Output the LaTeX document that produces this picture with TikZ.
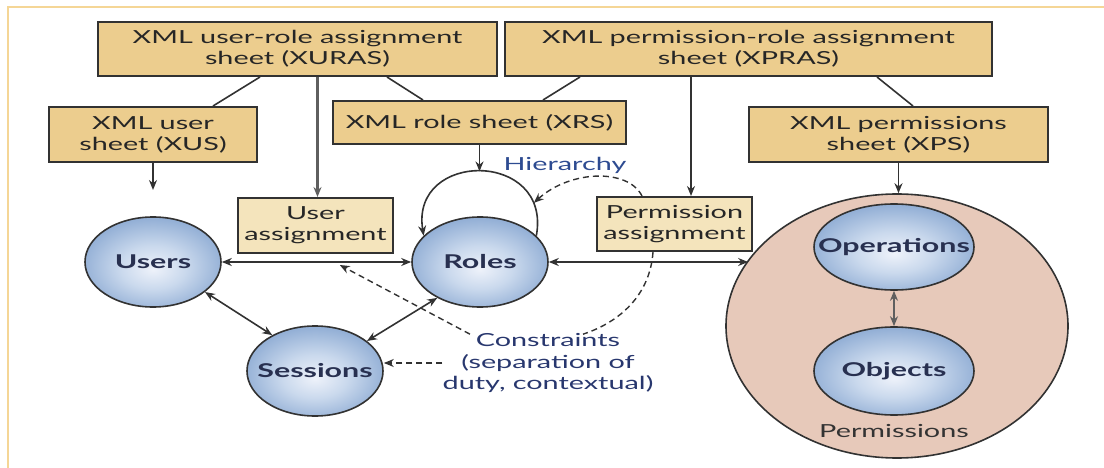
\documentclass[tikz,border=0pt]{standalone}
\usepackage{fontspec}
\setmainfont[FakeStretch=1.6]{Lato}
\usetikzlibrary{shapes.geometric,arrows.meta,calc}

\definecolor{frameline}{RGB}{245,214,150}
\definecolor{sheetfill}{RGB}{236,205,142}
\definecolor{assignfill}{RGB}{244,228,188}
\definecolor{edge}{RGB}{50,50,50}
\definecolor{heavyedge}{RGB}{95,95,95}
\definecolor{permfill}{RGB}{231,201,186}
\definecolor{labelblue}{RGB}{40,55,110}
\definecolor{hierblue}{RGB}{45,75,145}
\definecolor{balltext}{RGB}{40,48,80}
\definecolor{ballcenter}{RGB}{238,242,250}
\definecolor{ballmid}{RGB}{202,217,237}
\definecolor{balledge}{RGB}{148,176,214}
\pgfdeclareradialshading{ball}{\pgfpoint{0bp}{-4bp}}{color(0bp)=(ballcenter); color(12bp)=(ballmid); color(26bp)=(balledge); color(50bp)=(balledge)}

\begin{document}
\begin{tikzpicture}[x=1pt,y=-1pt,
  sheet/.style={draw=edge, line width=2pt, fill=sheetfill, inner sep=0pt, align=center,
    font=\fontsize{18}{21}\selectfont, text=black!85},
  assign/.style={sheet, fill=assignfill},
  ball/.style={ellipse, draw=edge, line width=1.6pt, shade, shading=ball, inner sep=0pt,
    minimum width=136pt, minimum height=90pt},
  balllabel/.style={font=\fontsize{19}{21}\selectfont\bfseries, text=balltext},
  note/.style={inner sep=0pt, align=center, font=\fontsize{18}{21.5}\selectfont, text=labelblue},
  tip/.style={-{Stealth[length=10pt,width=8pt]}},
  conn/.style={draw=edge, line width=1.6pt},
  arr/.style={conn, tip},
  biarr/.style={conn, {Stealth[length=10pt,width=8pt]}-{Stealth[length=10pt,width=8pt]}},
  heavy/.style={draw=heavyedge, line width=2.4pt},
  dline/.style={conn, line width=1.4pt, dash pattern=on 6pt off 4pt},
  darr/.style={dline, tip}
]
\useasboundingbox (0,0) rectangle (1104,468);

% outer frame (top and left rules)
\draw[frameline, line width=2pt] (8,468) -- (8,7) -- (1104,7);

% XML sheets
\node[sheet, minimum width=399pt, minimum height=54pt] (xuras) at (297.5,49) {XML user-role assignment\\sheet (XURAS)};
\node[sheet, minimum width=487pt, minimum height=54pt] (xpras) at (748.5,49) {XML permission-role assignment\\sheet (XPRAS)};
\node[sheet, minimum width=208pt, minimum height=55pt] (xus) at (153,134.5) {XML user\\sheet (XUS)};
\node[sheet, minimum width=293pt, minimum height=43pt] (xrs) at (479.5,122.5) {XML role sheet (XRS)};
\node[sheet, minimum width=299pt, minimum height=55pt] (xps) at (898.5,134.5) {XML permissions\\sheet (XPS)};

% assignment boxes
\node[assign, minimum width=155pt, minimum height=55pt] (ua) at (315.5,225.5) {User\\assignment};
\node[assign, minimum width=155pt, minimum height=54pt] (pa) at (674.5,224) {Permission\\assignment};

% permissions container
\node[ellipse, draw=edge, line width=1.6pt, fill=permfill, inner sep=0pt,
  minimum width=342pt, minimum height=264pt] (perms) at (897,326) {};
\node[inner sep=0pt, font=\fontsize{18}{21}\selectfont, text=black!80] (permlbl) at (894,431) {Permissions};

% entities
\node[ball, label={[balllabel]center:Users}] (users) at (153,262) {};
\node[ball, label={[balllabel]center:Roles}] (roles) at (480,262) {};
\node[ball, label={[balllabel]center:Sessions}] (sessions) at (315,371) {};
\node[ball, minimum width=160pt, minimum height=86pt, label={[balllabel]center:Operations}] (ops) at (894,247) {};
\node[ball, minimum width=160pt, minimum height=88pt, label={[balllabel]center:Objects}] (objs) at (894,371) {};

% free labels
\node[note, text=hierblue] (hier) at (565,165) {Hierarchy};
\node[note] (cons) at (548,363) {Constraints\\(separation of\\duty, contextual)};

% sheet links
\draw[conn] ([xshift=-37.5pt]xuras.south) -- ([xshift=60pt]xus.north);
\draw[conn] ([xshift=89.5pt]xuras.south) -- ([xshift=-56.5pt]xrs.north);
\draw[conn] ([xshift=-168.5pt]xpras.south) -- ([xshift=63.5pt]xrs.north);
\draw[conn] ([xshift=128.5pt]xpras.south) -- ([xshift=14.5pt]xps.north);

\coordinate (uaIn) at ([xshift=2pt]ua.north);
\draw[arr, heavy] (xuras.south -| uaIn) -- (uaIn);
\coordinate (paIn) at ([xshift=16.5pt]pa.north);
\draw[arr] (xpras.south -| paIn) -- (paIn);
\coordinate (usersIn) at (153,190);
\draw[arr] (xus.south) -- (usersIn);
\draw[arr] (xps.south) -- (xps.south |- perms.north);

% role hierarchy loop
\draw[arr] (roles.25) .. controls (552,150) and (410,150) ..
  coordinate[pos=0.15] (hierHit) coordinate[pos=0.5] (hierTop) (roles.155);
\draw[arr] (xrs.south) -- (xrs.south |- hierTop);

% relations
\draw[biarr, line width=1.8pt] (users.east) -- (roles.west);
\coordinate (permsIn) at (perms.156.7);
\draw[biarr, line width=1.8pt] (roles.east) -- (roles.east -| permsIn);
\draw[biarr] (users.-30) -- (sessions.140);
\draw[biarr] (roles.220) -- (sessions.30);
\draw[biarr, heavy] (ops.south) -- (objs.north);

% constraints
\coordinate (uaHit) at ($(users.east)!0.623!(roles.west)+(0,3)$);
\draw[darr] ([xshift=-78pt,yshift=-1pt]cons.north) -- (uaHit);
\draw[dline] ([xshift=-21.5pt]pa.south) .. controls (650,295) and (620,322) .. ([xshift=35pt,yshift=-1pt]cons.north);
\draw[darr] (cons.west) -- (cons.west -| sessions.east);
\draw[darr] ([xshift=-32.5pt]pa.north) .. controls (628,168) and (570,170) .. (hierHit);
\end{tikzpicture}
\end{document}
